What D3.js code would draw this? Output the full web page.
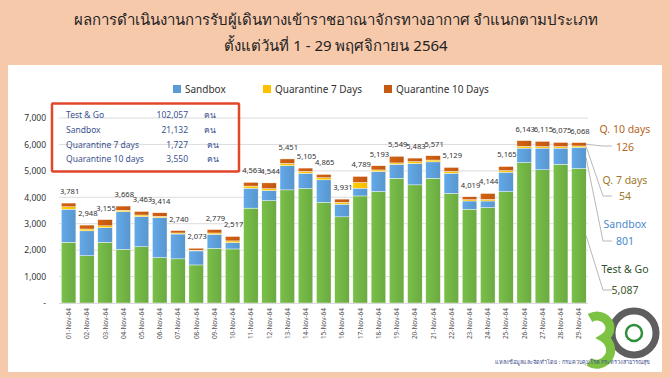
<!DOCTYPE html>
<html>
<head>
<meta charset="utf-8">
<title>Arrivals by type - Nov 2564</title>
<script src="https://d3js.org/d3.v7.min.js"></script>
<style>
  body { margin: 0; background: #f7c9ab; }
  svg { display: block; font-family: "Noto Sans", "DejaVu Sans", sans-serif; }
</style>
</head>
<body>
<script>
// data
const days = ["01-Nov-64","02-Nov-64","03-Nov-64","04-Nov-64","05-Nov-64","06-Nov-64","07-Nov-64",
  "08-Nov-64","09-Nov-64","10-Nov-64","11-Nov-64","12-Nov-64","13-Nov-64","14-Nov-64","15-Nov-64",
  "16-Nov-64","17-Nov-64","18-Nov-64","19-Nov-64","20-Nov-64","21-Nov-64","22-Nov-64","23-Nov-64",
  "24-Nov-64","25-Nov-64","26-Nov-64","27-Nov-64","28-Nov-64","29-Nov-64"];
const testGo  = [2300,1790,2300,2030,2130,1720,1670,1440,2070,2045,3590,3875,4280,4330,3810,3260,4050,4220,4720,4470,4720,4150,3550,3610,4215,5315,5040,5250,5087];
const sandbox = [1250,940,550,1420,1140,1510,940,530,530,240,755,380,920,580,850,480,295,755,530,810,620,760,310,250,735,545,820,610,801];
const q7      = [90,70,70,60,60,50,40,30,50,65,80,70,80,70,80,70,215,60,50,70,70,70,50,60,60,70,60,60,54];
const q10     = [141,148,235,158,133,134,90,73,129,167,138,219,171,125,125,121,229,158,249,133,161,149,109,224,155,213,195,155,126];
const totals  = [3781,2948,3155,3668,3463,3414,2740,2073,2779,2517,4563,4544,5451,5105,4865,3931,4789,5193,5549,5483,5571,5129,4019,4144,5165,6143,6115,6075,6068];
const yTicks = [0,1000,2000,3000,4000,5000,6000,7000];

const seriesKeys = ["tg","sb","q7","q10"];
const colors = {tg: "#6fb043", sb: "#5b9bd5", q7: "#ffc000", q10: "#c55a11"};

const summary = [
  ["Test & Go", "102,057"],
  ["Sandbox", "21,132"],
  ["Quarantine 7 days", "1,727"],
  ["Quarantine 10 days", "3,550"]
];

const W = 670, H = 378;
const svg = d3.select("body").append("svg").attr("width", W).attr("height", H);

// gradients for the glossy bars
const defs = svg.append("defs");
function grad(id, c) {
  var g = defs.append("linearGradient").attr("id", id).attr("x1", "0").attr("x2", "1").attr("y1", "0").attr("y2", "0");
  g.append("stop").attr("offset", "0%").attr("stop-color", d3.color(c).brighter(0.25));
  g.append("stop").attr("offset", "100%").attr("stop-color", d3.color(c).darker(0.1));
}
seriesKeys.forEach(k => grad("g_" + k, colors[k]));

// title
svg.append("text").attr("x", 336).attr("y", 25).attr("text-anchor", "middle")
  .attr("font-size", 15).attr("fill", "#222")
  .text("ผลการดำเนินงานการรับผู้เดินทางเข้าราชอาณาจักรทางอากาศ จำแนกตามประเภท");
svg.append("text").attr("x", 336).attr("y", 51).attr("text-anchor", "middle")
  .attr("font-size", 15).attr("fill", "#222")
  .text("ตั้งแต่วันที่ 1 - 29 พฤศจิกายน 2564");

// white panel
svg.append("rect").attr("x", 8).attr("y", 65).attr("width", 654).attr("height", 307).attr("fill", "#fff");

const x = d3.scaleBand().domain(days).range([59.5, 588]).paddingInner(0.2).paddingOuter(0.1);
const y = d3.scaleLinear().domain([0, 7000]).range([303, 118]);

// grid
svg.append("g").selectAll("line").data(yTicks.slice(1)).join("line")
  .attr("x1", 59).attr("x2", 588)
  .attr("y1", d => y(d)).attr("y2", d => y(d))
  .attr("stroke", "#dcdcdc").attr("stroke-width", 1);

const yAxis = svg.append("g").attr("transform", "translate(52,0)")
  .call(d3.axisLeft(y).tickValues(yTicks).tickSize(0).tickPadding(6)
    .tickFormat(d => d === 0 ? "-" : d3.format(",")(d)));
yAxis.select(".domain").remove();
yAxis.selectAll("text").attr("font-size", 8.5).attr("fill", "#333").attr("font-family", "Noto Sans, sans-serif");

// stacked bars
const rows = days.map((d, i) => ({day: d, tg: testGo[i], sb: sandbox[i], q7: q7[i], q10: q10[i]}));
const stacked = d3.stack().keys(seriesKeys)(rows);

svg.append("g").selectAll("g").data(stacked).join("g")
  .attr("fill", d => "url(#g_" + d.key + ")")
  .selectAll("rect").data(d => d).join("rect")
  .attr("x", d => x(d.data.day))
  .attr("width", x.bandwidth())
  .attr("y", d => y(d[1]))
  .attr("height", d => y(d[0]) - y(d[1]))
  .attr("stroke", "#fff").attr("stroke-width", 0.4);

// axis baseline
svg.append("line").attr("x1", 59).attr("x2", 588).attr("y1", 303.5).attr("y2", 303.5)
  .attr("stroke", "#d9d9d9");

// total labels
svg.append("g").selectAll("text").data(totals).join("text")
  .attr("x", (d, i) => x(days[i]) + x.bandwidth() / 2 + 1)
  .attr("y", d => y(d) - 9)
  .attr("text-anchor", "middle")
  .attr("font-size", 7.6).attr("fill", "#333")
  .text(d => d3.format(",")(d));

// x labels, rotated
svg.append("g").selectAll("text").data(days).join("text")
  .attr("transform", d => "translate(" + (x(d) + x.bandwidth() / 2 + 2.5) + ",308) rotate(-90)")
  .attr("text-anchor", "end")
  .attr("font-size", 6.5).attr("fill", "#555")
  .text(d => d);

// legend
const legend = [
  {key: "sb", label: "Sandbox", x: 173},
  {key: "q7", label: "Quarantine 7 Days", x: 263},
  {key: "q10", label: "Quarantine 10 Days", x: 384}
];
const lg = svg.append("g").selectAll("g").data(legend).join("g")
  .attr("transform", d => "translate(" + d.x + ",85)");
lg.append("rect").attr("width", 8).attr("height", 8).attr("fill", d => colors[d.key]);
lg.append("text").attr("x", 12).attr("y", 8).attr("font-size", 10).attr("fill", "#333").text(d => d.label);

// summary box
svg.append("rect").attr("x", 52).attr("y", 103.5).attr("width", 187).attr("height", 68)
  .attr("fill", "none").attr("stroke", "#e2472b").attr("stroke-width", 2.5).attr("rx", 1);
const sg = svg.append("g").selectAll("g").data(summary).join("g")
  .attr("transform", (d, i) => "translate(0," + (118 + i * 14.8) + ")");
sg.append("text").attr("x", 66).attr("font-size", 8.5).attr("fill", "#3b5290").text(d => d[0]);
sg.append("text").attr("x", 188).attr("text-anchor", "end").attr("font-size", 8.5).attr("fill", "#3b5290").text(d => d[1]);
sg.append("text").attr("x", (d, i) => i < 2 ? 204 : 207).attr("font-size", 8.5).attr("fill", "#3b5290").text("คน");

// right-side call-outs for the last day
const last = stacked.map(s => s[s.length - 1]);
const xr = x(days[28]) + x.bandwidth();
const callouts = [
  {key: "q10", name: "Q. 10 days", value: q10[28], color: "#b8641c", ty: 133, vy: 151, ly: 146},
  {key: "q7",  name: "Q. 7 days",  value: q7[28],  color: "#a07a2a", ty: 184, vy: 200, ly: 196},
  {key: "sb",  name: "Sandbox",    value: sandbox[28], color: "#4a8acb", ty: 228, vy: 245, ly: 241},
  {key: "tg",  name: "Test & Go",  value: testGo[28], color: "#2f4f2a", ty: 273, vy: 294, ly: 290}
];
const cg = svg.append("g").selectAll("g").data(callouts).join("g");
cg.append("polyline")
  .attr("points", d => {
    var s = last[seriesKeys.indexOf(d.key)];
    var sy = y((s[0] + s[1]) / 2);
    return xr + "," + sy + " " + 603 + "," + d.ly + " " + 612 + "," + d.ly;
  })
  .attr("fill", "none").attr("stroke", "#a6a6a6").attr("stroke-width", 0.8);
cg.append("text").attr("x", 625).attr("y", d => d.ty).attr("text-anchor", "middle")
  .attr("font-size", 10.5).attr("fill", d => d.color).text(d => d.name);
cg.append("text").attr("x", 625).attr("y", d => d.vy).attr("text-anchor", "middle")
  .attr("font-size", 10.5).attr("fill", d => d.key === "tg" ? "#3d5a2e" : d.color)
  .text(d => d3.format(",")(d.value));

// logo (rough drawing)
const logo = svg.append("g");
logo.append("circle").attr("cx", 634).attr("cy", 333).attr("r", 22)
  .attr("fill", "none").attr("stroke", "#5e5e5e").attr("stroke-width", 7);
logo.append("circle").attr("cx", 634).attr("cy", 333).attr("r", 8)
  .attr("fill", "#fff").attr("stroke", "#2f8f3a").attr("stroke-width", 2.5);
logo.append("path")
  .attr("d", "M590,318 A12,11 0 1 1 604,338 A14,14 0 1 1 589,362")
  .attr("fill", "none").attr("stroke", "#7dc242").attr("stroke-width", 9);

// source note
svg.append("text").attr("x", 650).attr("y", 364).attr("text-anchor", "end")
  .attr("font-size", 5.5).attr("fill", "#3b4a8a")
  .text("แหล่งข้อมูลและจัดทำโดย : กรมควบคุมโรค กระทรวงสาธารณสุข");
</script>
</body>
</html>
